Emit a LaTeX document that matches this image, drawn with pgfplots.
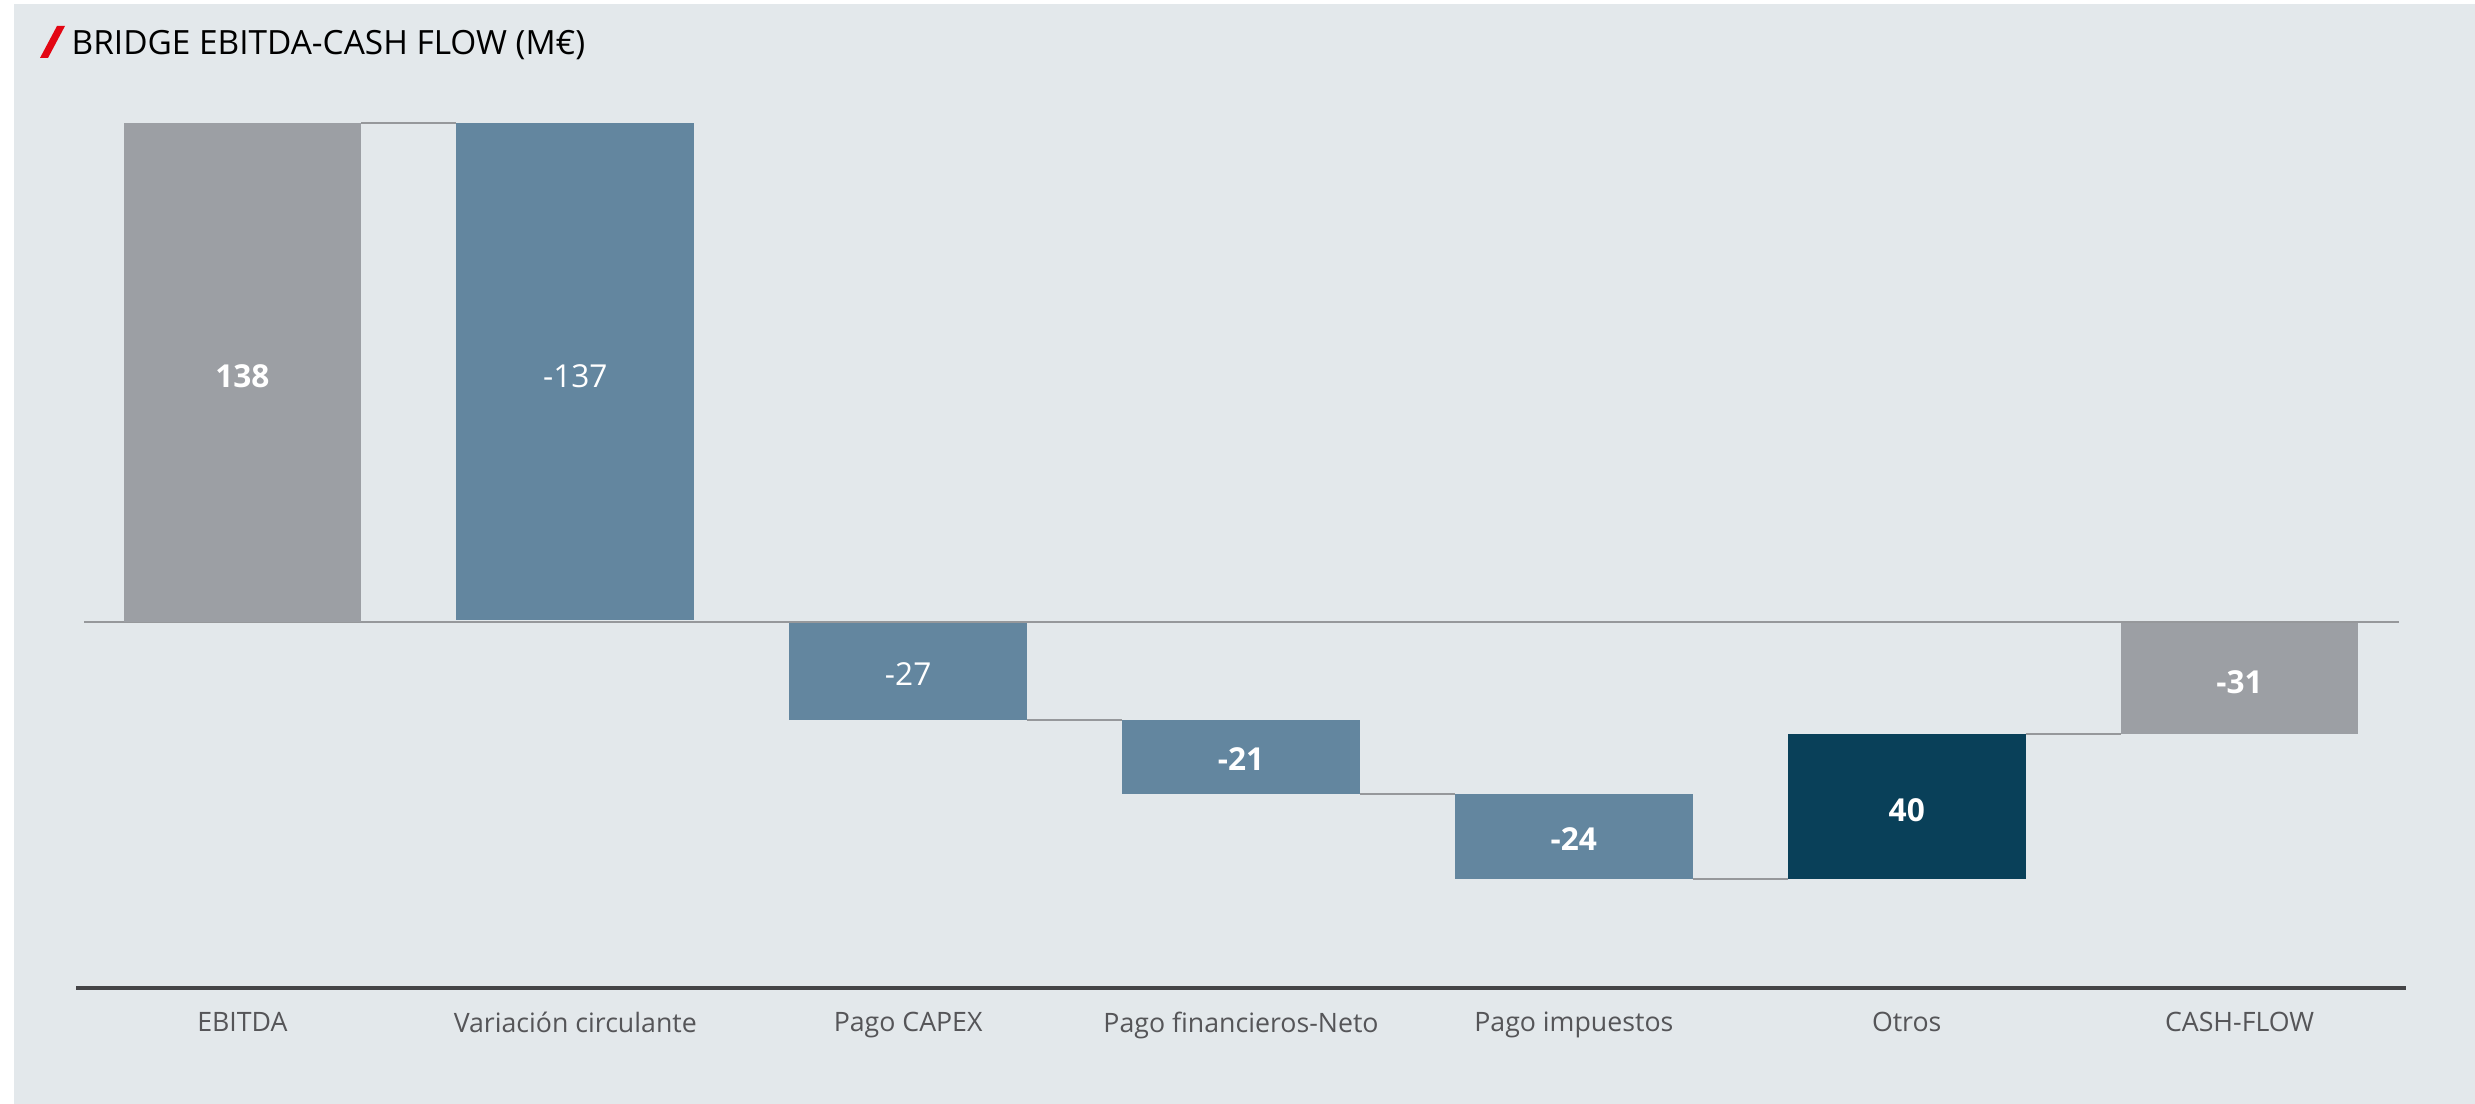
\documentclass[border=0pt]{standalone}
\usepackage{fontspec}
\setmainfont{Open Sans}
\usepackage{pgfplots}
\pgfplotsset{compat=1.18}
\definecolor{bgc}{RGB}{227,232,235}
\definecolor{gbar}{RGB}{156,159,164}
\definecolor{bbar}{RGB}{99,134,159}
\definecolor{dbar}{RGB}{9,64,89}
\definecolor{lcol}{RGB}{150,152,155}
\definecolor{axcol}{RGB}{68,68,70}
\definecolor{tcol}{RGB}{85,85,88}
\definecolor{brandred}{RGB}{227,6,19}
\begin{document}
\begin{tikzpicture}[x=1cm,y=1cm]
\fill[white] (0,0) rectangle (24.75,11.04);
\fill[bgc] (0.14,0) rectangle (24.75,10.995);
\fill[brandred] (0.40,10.46) -- (0.48,10.46) -- (0.65,10.78) -- (0.57,10.78) -- cycle;
\node[anchor=base west, inner sep=0pt, text=black] at (0.71,10.49)
  {\fontsize{9.5}{11}\selectfont BRIDGE EBITDA-CASH FLOW (M€)};
\begin{axis}[
  at={(0.76cm,1.16cm)}, anchor=south west,
  scale only axis, width=23.3cm, height=9.08cm,
  xmin=-0.5, xmax=6.5, ymin=-101.2, ymax=150,
  axis x line=bottom, axis y line=none,
  x axis line style={axcol, line width=1.2pt, -},
  xtick={0,1,2,3,4,5,6},
  xticklabels={EBITDA, Variación circulante, Pago CAPEX, Pago financieros-Neto, Pago impuestos, Otros, CASH-FLOW},
  major tick length=0pt,
  xticklabel style={font=\fontsize{7.6}{9}\selectfont, text=tcol, yshift=-3.4pt},
  clip=false,
]
% zero line
\addplot[lcol, line width=0.6pt] coordinates {(-0.475,0) (6.48,0)};
% connectors
\addplot[lcol, line width=0.6pt] coordinates {(0.357,138) (0.643,138)};
\addplot[lcol, line width=0.6pt] coordinates {(2.357,-27) (2.643,-27)};
\addplot[lcol, line width=0.6pt] coordinates {(3.357,-47.5) (3.643,-47.5)};
\addplot[lcol, line width=0.6pt] coordinates {(4.357,-71) (4.643,-71)};
\addplot[lcol, line width=0.6pt] coordinates {(5.357,-31) (5.643,-31)};
% bars
\addplot[fill=gbar, draw=none] coordinates {(-0.357,0) (0.357,0) (0.357,138) (-0.357,138)} -- cycle;
\addplot[fill=bbar, draw=none] coordinates {(0.643,0.5) (1.357,0.5) (1.357,138) (0.643,138)} -- cycle;
\addplot[fill=bbar, draw=none] coordinates {(1.643,-0.3) (2.357,-0.3) (2.357,-27) (1.643,-27)} -- cycle;
\addplot[fill=bbar, draw=none] coordinates {(2.643,-27) (3.357,-27) (3.357,-47.5) (2.643,-47.5)} -- cycle;
\addplot[fill=bbar, draw=none] coordinates {(3.643,-47.5) (4.357,-47.5) (4.357,-71) (3.643,-71)} -- cycle;
\addplot[fill=dbar, draw=none] coordinates {(4.643,-71) (5.357,-71) (5.357,-31) (4.643,-31)} -- cycle;
\addplot[fill=gbar, draw=none] coordinates {(5.643,-0.3) (6.357,-0.3) (6.357,-31) (5.643,-31)} -- cycle;
% labels
\addplot[only marks, mark=none, nodes near coords, point meta=explicit symbolic,
  every node near coord/.append style={anchor=center, text=white, font=\fontsize{9}{11}\selectfont\bfseries}]
  table[meta=lab] {
x y lab
0 68 138
3 -38 -21
4 -60 -24
5 -52 40
6 -16.7 -31
};
\addplot[only marks, mark=none, nodes near coords, point meta=explicit symbolic,
  every node near coord/.append style={anchor=center, text=white, font=\fontsize{9}{11}\selectfont}]
  table[meta=lab] {
x y lab
1 68 -137
2 -14.3 -27
};
\end{axis}
\end{tikzpicture}
\end{document}
